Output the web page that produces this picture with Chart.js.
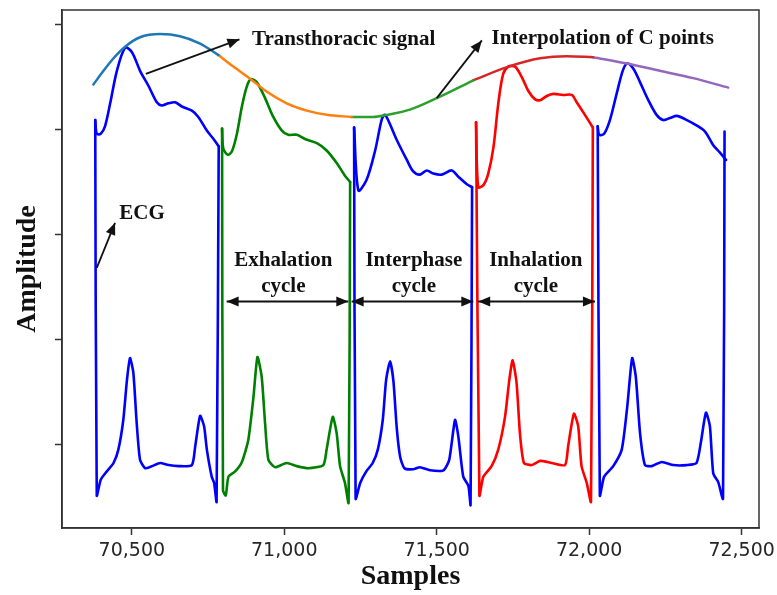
<!DOCTYPE html>
<html>
<head>
<meta charset="utf-8">
<script src="https://cdn.jsdelivr.net/npm/chart.js@4.4.0/dist/chart.umd.min.js"></script>
<style>
  html, body { margin: 0; padding: 0; background: #fff; }
  canvas { display: block; }
</style>
</head>
<body>
<canvas id="chart" width="777" height="595"></canvas>
<script>
const xTicks = [70500, 71000, 71500, 72000, 72500];
const yTicks = [0, 1, 2, 3, 4];

// each heartbeat: upper trace + lower trace (lower one also holds the two vertical strokes)
const upper1 = [[70380,3.09],[70385,2.96],[70398,2.96],[70412,3.03],[70429,3.25],[70451,3.56],[70478,3.78],[70500,3.74],[70527,3.56],[70554,3.42],[70582,3.26],[70598,3.23],[70620,3.25],[70642,3.26],[70664,3.22],[70697,3.18],[70718,3.12],[70746,2.99],[70768,2.91],[70785,2.84]];
const lower1 = [[70380,3.09],[70385,-0.49],[70398,-0.34],[70418,-0.26],[70440,-0.18],[70456,-0.05],[70472,0.23],[70484,0.61],[70494,0.82],[70505,0.68],[70516,0.20],[70527,-0.15],[70544,-0.23],[70566,-0.21],[70593,-0.18],[70620,-0.20],[70653,-0.21],[70697,-0.20],[70708,-0.02],[70724,0.27],[70737,0.17],[70746,-0.05],[70762,-0.31],[70770,-0.37],[70778,-0.55],[70785,2.84]];

const upper2 = [[70796,3.01],[70800,2.82],[70815,2.76],[70828,2.79],[70844,2.95],[70861,3.22],[70877,3.41],[70890,3.48],[70910,3.45],[70937,3.30],[70964,3.12],[70992,2.99],[71013,2.95],[71041,2.95],[71068,2.91],[71107,2.87],[71139,2.80],[71172,2.68],[71199,2.56],[71216,2.50]];
const lower2 = [[70796,3.01],[70799,-0.44],[70808,-0.49],[70817,-0.31],[70839,-0.26],[70861,-0.17],[70882,0.04],[70899,0.45],[70912,0.83],[70926,0.64],[70937,0.20],[70948,-0.15],[70970,-0.22],[71008,-0.18],[71041,-0.21],[71079,-0.23],[71128,-0.20],[71139,-0.05],[71159,0.26],[71172,0.10],[71183,-0.21],[71199,-0.37],[71211,-0.56],[71216,2.50]];

const upper3 = [[71229,3.02],[71243,2.42],[71270,2.52],[71298,2.80],[71320,3.10],[71331,3.14],[71369,2.90],[71402,2.71],[71423,2.60],[71445,2.57],[71467,2.61],[71489,2.58],[71516,2.57],[71549,2.61],[71571,2.55],[71598,2.48],[71616,2.45]];
const lower3 = [[71229,3.02],[71234,-0.52],[71249,-0.37],[71269,-0.26],[71290,-0.18],[71307,-0.05],[71323,0.23],[71334,0.61],[71347,0.79],[71358,0.60],[71369,0.15],[71380,-0.12],[71394,-0.23],[71423,-0.24],[71445,-0.22],[71478,-0.25],[71522,-0.25],[71541,-0.15],[71560,0.23],[71571,0.07],[71587,-0.31],[71604,-0.40],[71611,-0.58],[71616,2.45]];

const upper4 = [[71629,3.07],[71636,2.45],[71653,2.47],[71669,2.58],[71686,2.83],[71702,3.25],[71718,3.53],[71735,3.60],[71757,3.60],[71779,3.50],[71800,3.37],[71822,3.29],[71839,3.28],[71861,3.32],[71882,3.34],[71915,3.33],[71943,3.33],[71959,3.26],[71986,3.14],[72012,3.02]];
const lower4 = [[71629,3.07],[71640,-0.49],[71653,-0.31],[71680,-0.21],[71702,-0.05],[71724,0.26],[71738,0.61],[71749,0.80],[71762,0.58],[71773,0.10],[71786,-0.18],[71811,-0.20],[71839,-0.16],[71877,-0.18],[71921,-0.20],[71931,-0.02],[71950,0.29],[71964,0.17],[71975,-0.21],[71992,-0.37],[72006,-0.55],[72012,3.02]];

const upper5 = [[72028,3.03],[72033,2.95],[72049,2.96],[72068,3.09],[72090,3.34],[72110,3.56],[72125,3.63],[72145,3.58],[72167,3.45],[72194,3.28],[72221,3.14],[72243,3.09],[72265,3.11],[72287,3.13],[72314,3.10],[72352,3.04],[72380,2.98],[72407,2.85],[72429,2.78],[72449,2.71]];
const lower5 = [[72028,3.03],[72035,-0.49],[72049,-0.31],[72079,-0.21],[72107,-0.05],[72125,0.36],[72141,0.82],[72153,0.64],[72167,0.10],[72183,-0.20],[72205,-0.21],[72238,-0.17],[72276,-0.20],[72320,-0.20],[72352,-0.18],[72366,0.01],[72383,0.30],[72396,0.17],[72407,-0.28],[72423,-0.36],[72439,-0.52],[72444,2.98]];

const beatColors = ["#0000ff", "#008000", "#0000ff", "#ff0000", "#0000ff"];

// transthoracic signal (interpolation of C points)
const envelope = [[70374,3.43],[70407,3.56],[70440,3.68],[70478,3.79],[70527,3.88],[70593,3.91],[70658,3.89],[70724,3.82],[70784,3.71],[70833,3.60],[70890,3.48],[70943,3.36],[71008,3.25],[71074,3.18],[71139,3.14],[71221,3.12],[71292,3.12],[71336,3.14],[71412,3.19],[71500,3.30],[71620,3.47],[71735,3.60],[71839,3.68],[71926,3.70],[72013,3.69],[72123,3.63],[72232,3.56],[72341,3.49],[72456,3.40]];
const envelopeBreaks = [70784, 71221, 71620, 72013];
const envelopeColors = ["#1f77b4", "#ff7f0e", "#2ca02c", "#d62728", "#9467bd"];

const toXY = arr => arr.map(p => ({x: p[0], y: p[1]}));

var datasets = [];

// envelope split in coloured pieces, neighbours share the break point
var bounds = [-Infinity].concat(envelopeBreaks, [Infinity]);
for (var i = 0; i < envelopeColors.length; i++) {
    var piece = envelope.filter(p => p[0] >= bounds[i] && p[0] <= bounds[i + 1]);
    datasets.push({
        data: toXY(piece),
        borderColor: envelopeColors[i],
        borderWidth: 2.5,
        cubicInterpolationMode: "monotone"
    });
}

var uppers = [upper1, upper2, upper3, upper4, upper5];
var lowers = [lower1, lower2, lower3, lower4, lower5];
for (var i = 0; i < uppers.length; i++) {
    datasets.push({ data: toXY(uppers[i]), borderColor: beatColors[i], borderWidth: 2.6, tension: 0.3 });
    datasets.push({ data: toXY(lowers[i]), borderColor: beatColors[i], borderWidth: 2.6, tension: 0.2 });
}

// text and arrows, placed in data units
const labelFont = "bold 21px 'Liberation Serif', 'Times New Roman', serif";
const notes = [
    { lines: ["Transthoracic signal"], x: 70894, y: 3.86, align: "left" },
    { lines: ["Interpolation of C points"], x: 71680, y: 3.87, align: "left" },
    { lines: ["ECG"], x: 70459, y: 2.20, align: "left" },
    { lines: ["Exhalation", "cycle"], x: 70997, y: 1.75, align: "center" },
    { lines: ["Interphase", "cycle"], x: 71425, y: 1.75, align: "center" },
    { lines: ["Inhalation", "cycle"], x: 71825, y: 1.75, align: "center" }
];
const arrows = [
    { from: [70546, 3.53], to: [70853, 3.86] },
    { from: [71500, 3.30], to: [71648, 3.85] },
    { from: [70385, 1.68], to: [70445, 2.11] },
    { from: [70811, 1.36], to: [71210, 1.36], both: true },
    { from: [71221, 1.36], to: [71620, 1.36], both: true },
    { from: [71636, 1.36], to: [72019, 1.36], both: true }
];

function head(ctx, x1, y1, x2, y2) {
    var a = Math.atan2(y2 - y1, x2 - x1), len = 12, w = 5;
    ctx.beginPath();
    ctx.moveTo(x2, y2);
    ctx.lineTo(x2 - len * Math.cos(a) + w * Math.sin(a), y2 - len * Math.sin(a) - w * Math.cos(a));
    ctx.lineTo(x2 - len * Math.cos(a) - w * Math.sin(a), y2 - len * Math.sin(a) + w * Math.cos(a));
    ctx.closePath();
    ctx.fill();
}

const decorations = {
    id: "decorations",
    beforeDatasetsDraw(chart) {
        var ctx = chart.ctx, a = chart.chartArea;
        ctx.save();
        ctx.strokeStyle = "#333";
        ctx.lineWidth = 1.5;
        ctx.strokeRect(a.left, a.top, a.right - a.left, a.bottom - a.top);
        ctx.restore();
    },
    afterDatasetsDraw(chart) {
        var ctx = chart.ctx, xs = chart.scales.x, ys = chart.scales.y;
        ctx.save();
        ctx.fillStyle = "#111";
        ctx.strokeStyle = "#111";
        ctx.lineWidth = 1.8;
        arrows.forEach(function (ar) {
            var x1 = xs.getPixelForValue(ar.from[0]), y1 = ys.getPixelForValue(ar.from[1]);
            var x2 = xs.getPixelForValue(ar.to[0]), y2 = ys.getPixelForValue(ar.to[1]);
            ctx.beginPath();
            ctx.moveTo(x1, y1);
            ctx.lineTo(x2, y2);
            ctx.stroke();
            head(ctx, x1, y1, x2, y2);
            if (ar.both) head(ctx, x2, y2, x1, y1);
        });
        ctx.font = labelFont;
        ctx.textBaseline = "middle";
        notes.forEach(function (n) {
            ctx.textAlign = n.align;
            var px = xs.getPixelForValue(n.x), py = ys.getPixelForValue(n.y);
            n.lines.forEach(function (t, k) { ctx.fillText(t, px, py + k * 26); });
        });
        ctx.restore();
    }
};

new Chart("chart", {
    type: "line",
    data: { datasets: datasets },
    options: {
        responsive: false,
        animation: false,
        devicePixelRatio: 1,
        layout: { padding: { top: 10, right: 18, left: 0, bottom: 0 } },
        elements: { point: { radius: 0 }, line: { borderCapStyle: "round", borderJoinStyle: "round" } },
        plugins: { legend: { display: false }, tooltip: { enabled: false } },
        scales: {
            x: {
                type: "linear",
                min: 70271,
                max: 72557,
                afterBuildTicks: s => { s.ticks = xTicks.map(v => ({ value: v })); },
                afterFit: s => { s.height = 67; s.paddingLeft = 0; s.paddingRight = 0; },
                ticks: {
                    color: "#262626",
                    padding: 5,
                    maxRotation: 0,
                    font: { family: "'DejaVu Sans'", size: 19 },
                    callback: v => v.toLocaleString("en-US")
                },
                grid: { drawOnChartArea: false, drawTicks: true, tickLength: 7, tickColor: "#333", tickWidth: 1.5 },
                border: { color: "#333", width: 1.5 },
                title: {
                    display: true,
                    text: "Samples",
                    color: "#111",
                    padding: { top: 0, bottom: 1 },
                    font: { family: "'Liberation Serif', 'Times New Roman', serif", size: 28, weight: "bold" }
                }
            },
            y: {
                min: -0.8,
                max: 4.14,
                afterBuildTicks: s => { s.ticks = yTicks.map(v => ({ value: v })); },
                afterFit: s => { s.width = 62; s.paddingTop = 0; s.paddingBottom = 0; },
                ticks: { callback: () => "" },
                grid: { drawOnChartArea: false, drawTicks: true, tickLength: 7, tickColor: "#333", tickWidth: 1.5 },
                border: { color: "#333", width: 1.5 },
                title: {
                    display: true,
                    text: "Amplitude",
                    color: "#111",
                    padding: { top: 11, bottom: 0 },
                    font: { family: "'Liberation Serif', 'Times New Roman', serif", size: 28, weight: "bold" }
                }
            }
        }
    },
    plugins: [decorations]
});
</script>
</body>
</html>
